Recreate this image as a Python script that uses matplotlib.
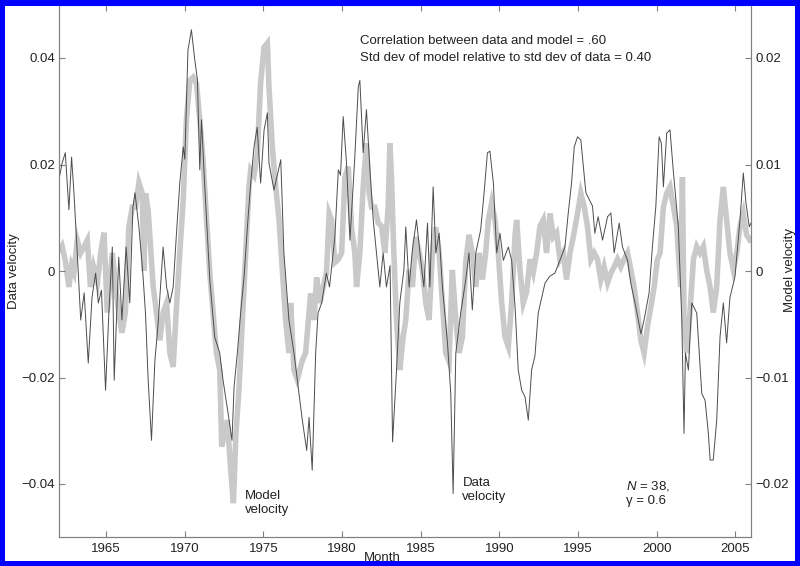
import matplotlib
matplotlib.use("Agg")
import matplotlib.pyplot as plt
from matplotlib.patches import Rectangle
from matplotlib.ticker import FuncFormatter

plt.rcParams["font.family"] = ["Liberation Sans", "DejaVu Sans"]
plt.rcParams["mathtext.fontset"] = "custom"
plt.rcParams["mathtext.rm"] = "Liberation Sans"
plt.rcParams["mathtext.it"] = "Liberation Sans:italic"

# data velocity (left axis)
data_year = [
    1962.05, 1962.2, 1962.4, 1962.63, 1962.8, 1962.95, 1963.16, 1963.38, 1963.6, 1963.86,
    1964.1, 1964.33, 1964.5, 1964.7, 1964.96, 1965.17, 1965.39, 1965.51, 1965.8, 1966.0,
    1966.27, 1966.5, 1966.7, 1966.83, 1967.08, 1967.33, 1967.5, 1967.67, 1967.88, 1968.1,
    1968.3, 1968.62, 1968.84, 1969.05, 1969.26, 1969.47, 1969.68, 1969.9, 1970.0, 1970.2,
    1970.42, 1970.63, 1970.8, 1970.95, 1971.06, 1971.27, 1971.59, 1971.9, 1972.22, 1972.43,
    1972.75, 1973.0, 1973.13, 1973.34, 1973.55, 1973.77, 1973.98, 1974.19, 1974.4, 1974.6,
    1974.82, 1975.04, 1975.25, 1975.35, 1975.67, 1976.1, 1976.3, 1976.62, 1976.94, 1977.26,
    1977.47, 1977.75, 1977.9, 1978.1, 1978.32, 1978.47, 1978.7, 1979.0, 1979.2, 1979.54,
    1979.76, 1979.9, 1980.07, 1980.28, 1980.5, 1980.8, 1981.03, 1981.13, 1981.34, 1981.55,
    1981.77, 1981.98, 1982.19, 1982.4, 1982.61, 1982.82, 1983.05, 1983.21, 1983.46, 1983.67,
    1983.93, 1984.05, 1984.26, 1984.47, 1984.73, 1985.0, 1985.2, 1985.43, 1985.58, 1985.79,
    1985.96, 1986.17, 1986.38, 1986.7, 1986.91, 1987.06, 1987.23, 1987.54, 1987.86, 1988.07,
    1988.28, 1988.5, 1988.81, 1989.03, 1989.24, 1989.4, 1989.62, 1989.83, 1990.04, 1990.25,
    1990.57, 1990.78, 1991.0, 1991.2, 1991.42, 1991.63, 1991.84, 1992.05, 1992.26, 1992.47,
    1992.9, 1993.2, 1993.53, 1993.85, 1994.17, 1994.38, 1994.59, 1994.76, 1994.97, 1995.18,
    1995.5, 1995.92, 1996.07, 1996.28, 1996.56, 1996.88, 1997.09, 1997.3, 1997.62, 1997.83,
    1998.15, 1998.36, 1998.68, 1999.0, 1999.2, 1999.52, 1999.73, 1999.95, 2000.16, 2000.3,
    2000.43, 2000.64, 2000.85, 2001.07, 2001.38, 2001.6, 2001.74, 2001.83, 2002.02, 2002.23,
    2002.55, 2002.87, 2003.08, 2003.29, 2003.4, 2003.6, 2003.82, 2004.03, 2004.24, 2004.45,
    2004.66, 2004.98, 2005.3, 2005.51, 2005.68, 2005.89, 2006.0,
]
data_vel = [
    0.018, 0.0203, 0.0222, 0.0115, 0.0214, 0.0147, 0.0034, -0.0092, -0.0041, -0.0173,
    -0.0049, -0.0004, -0.006, -0.0036, -0.0224, -0.0079, 0.0045, -0.0205, 0.0026, -0.0092,
    0.0045, -0.006, 0.012, 0.0147, 0.0083, -0.0004, -0.008, -0.0205, -0.0318, -0.0167,
    -0.010, 0.0045, -0.003, -0.006, -0.003, 0.0071, 0.0165, 0.0233, 0.021, 0.0415,
    0.0453, 0.0397, 0.036, 0.019, 0.0284, 0.0158, -0.0017, -0.0124, -0.0154, -0.0205,
    -0.0267, -0.0318, -0.0218, -0.0154, -0.0079, -0.001, 0.0083, 0.0165, 0.0233, 0.027,
    0.0165, 0.0265, 0.0297, 0.0203, 0.0152, 0.0209, 0.0034, -0.0092, -0.0154, -0.023,
    -0.028, -0.0337, -0.0275, -0.0374, -0.0154, -0.0079, -0.006, -0.0004, -0.003, 0.0064,
    0.019, 0.018, 0.029, 0.0203, 0.0058, 0.0209, 0.0346, 0.0358, 0.0222, 0.0303,
    0.019, 0.0096, 0.0034, -0.003, 0.0034, -0.003, 0.001, -0.0321, -0.0186, -0.006,
    0.0002, 0.0083, -0.003, 0.004, 0.0096, 0.002, -0.003, 0.009, -0.003, 0.0158,
    0.0034, 0.0071, -0.003, -0.0135, -0.023, -0.0418, -0.0154, -0.0079, -0.0017, 0.0034,
    -0.0073, 0.0034, 0.0077, 0.0147, 0.0222, 0.0225, 0.0165, 0.0034, 0.0071, 0.002,
    0.0045, 0.002, -0.0068, -0.0186, -0.0224, -0.0236, -0.028, -0.0186, -0.016, -0.0079,
    -0.0023, -0.001, -0.0004, 0.002, 0.0045, 0.0109, 0.0165, 0.0233, 0.0252, 0.0246,
    0.0147, 0.0122, 0.0071, 0.0102, 0.0058, 0.0102, 0.0109, 0.0034, 0.009, 0.0045,
    0.002, -0.0023, -0.0068, -0.0118, -0.0092, -0.0041, 0.0045, 0.0122, 0.0252, 0.024,
    0.0158, 0.0259, 0.0265, 0.0184, 0.0083, -0.0092, -0.0305, -0.0154, -0.0186, -0.006,
    -0.0079, -0.023, -0.0243, -0.0305, -0.0355, -0.0355, -0.028, -0.0124, -0.006, -0.0135,
    -0.005, -0.0011, 0.0096, 0.0184, 0.0128, 0.0083, 0.009,
]

# model velocity (right axis)
model_year = [
    1962.1, 1962.2, 1962.4, 1962.63, 1962.8, 1962.95, 1963.16, 1963.38, 1963.6, 1963.8,
    1964.0, 1964.2, 1964.45, 1964.65, 1964.86, 1965.07, 1965.39, 1965.6, 1965.8, 1966.0,
    1966.22, 1966.44, 1966.66, 1966.87, 1967.08, 1967.29, 1967.4, 1967.5, 1967.67, 1967.78,
    1967.99, 1968.2, 1968.41, 1968.62, 1968.84, 1969.05, 1969.26, 1969.47, 1969.68, 1969.9,
    1970.1, 1970.32, 1970.53, 1970.74, 1970.95, 1971.16, 1971.38, 1971.59, 1971.8, 1972.01,
    1972.22, 1972.35, 1972.7, 1972.92, 1973.09, 1973.24, 1973.45, 1973.66, 1973.87, 1974.08,
    1974.19, 1974.4, 1974.61, 1974.82, 1975.04, 1975.25, 1975.35, 1975.56, 1975.78, 1975.99,
    1976.2, 1976.41, 1976.62, 1976.73, 1976.94, 1977.15, 1977.47, 1977.68, 1978.0, 1978.21,
    1978.38, 1978.59, 1978.8, 1979.01, 1979.18, 1979.33, 1979.54, 1979.76, 1979.97, 1980.18,
    1980.39, 1980.6, 1980.81, 1980.92, 1981.13, 1981.34, 1981.55, 1981.72, 1981.87, 1982.08,
    1982.3, 1982.51, 1982.72, 1982.93, 1983.04, 1983.14, 1983.29, 1983.46, 1983.67, 1983.88,
    1984.05, 1984.26, 1984.47, 1984.69, 1984.9, 1985.11, 1985.32, 1985.53, 1985.74, 1985.96,
    1986.17, 1986.38, 1986.59, 1986.8, 1987.01, 1987.23, 1987.44, 1987.65, 1987.86, 1988.07,
    1988.28, 1988.5, 1988.71, 1988.92, 1989.13, 1989.3, 1989.51, 1989.72, 1989.93, 1990.15,
    1990.36, 1990.57, 1990.78, 1991.0, 1991.1, 1991.31, 1991.52, 1991.73, 1991.95, 1992.16,
    1992.37, 1992.58, 1992.79, 1993.0, 1993.22, 1993.43, 1993.64, 1993.85, 1994.06, 1994.27,
    1994.49, 1994.7, 1994.97, 1995.18, 1995.4, 1995.6, 1995.82, 1996.03, 1996.24, 1996.45,
    1996.66, 1996.88, 1997.09, 1997.3, 1997.51, 1997.72, 1997.93, 1998.15, 1998.36, 1998.57,
    1998.78, 1999.0, 1999.2, 1999.42, 1999.63, 1999.84, 2000.05, 2000.22, 2000.43, 2000.64,
    2000.85, 2001.07, 2001.28, 2001.38, 2001.53, 2001.64, 2001.74, 2001.91, 2002.12, 2002.34,
    2002.55, 2002.76, 2002.97, 2003.18, 2003.4, 2003.6, 2003.82, 2004.03, 2004.24, 2004.45,
    2004.66, 2004.88, 2005.09, 2005.3, 2005.51, 2005.72, 2005.93,
]
model_vel = [
    0.002, 0.0023, 0.001, -0.0015, 0.0005, -0.0001, 0.0029, 0.0017, 0.0023, 0.0029,
    -0.0015, 0.0004, -0.001, 0.0017, 0.0036, -0.0039, 0.0017, -0.0015, -0.0039, -0.0058,
    -0.0039, 0.0041, 0.006, 0.006, 0.0083, 0.0073, 0.0, 0.0073, 0.0057, 0.0032,
    -0.0015, -0.0039, -0.0065, -0.0039, -0.003, -0.0077, -0.009, -0.0034, 0.0017, 0.0067,
    0.0142, 0.0179, 0.0182, 0.0176, 0.0142, 0.0104, 0.0048, -0.0002, -0.0039, -0.0077,
    -0.0093, -0.0165, -0.014, -0.0187, -0.0218, -0.0156, -0.0109, -0.0046, 0.0017, 0.0079,
    0.0095, 0.009, 0.0111, 0.0177, 0.021, 0.0214, 0.0173, 0.0117, 0.0079, 0.0048,
    0.0001, -0.0046, -0.0077, -0.003, -0.0093, -0.0102, -0.0084, -0.0077, -0.0021, -0.0046,
    -0.0006, -0.003, -0.0015, -0.0001, 0.0054, 0.0048, 0.0008, 0.0011, 0.0017, 0.0088,
    0.0098, 0.0041, 0.0017, -0.0015, 0.0017, 0.0079, 0.012, 0.0073, 0.006, 0.006,
    0.0045, 0.0042, 0.0017, 0.006, 0.012, 0.0088, 0.0017, -0.0046, -0.0093, -0.0062,
    -0.0046, 0.0001, -0.0015, 0.0032, 0.0017, 0.0001, -0.003, -0.0046, 0.0017, 0.0041,
    0.0017, -0.003, -0.0077, -0.0085, 0.0001, -0.0046, -0.0077, -0.0062, 0.0008, 0.0034,
    0.0017, -0.0015, 0.0017, -0.0008, 0.0017, 0.0048, 0.0064, 0.0048, 0.0017, -0.003,
    -0.0062, -0.0071, -0.003, 0.0034, 0.0048, 0.0001, -0.003, -0.002, 0.0011, -0.0001,
    0.0017, 0.0042, 0.0048, 0.0017, 0.0054, 0.0032, 0.0036, 0.0011, 0.0017, -0.0008,
    0.0017, 0.0032, 0.0054, 0.0073, 0.006, 0.0042, 0.0011, 0.0017, 0.0011, -0.0008,
    0.0004, -0.0011, -0.0002, 0.0004, 0.0011, 0.0004, 0.0011, 0.0017, 0.0001, -0.0015,
    -0.0039, -0.0065, -0.0077, -0.0052, -0.0034, -0.0015, 0.0011, 0.0017, 0.006, 0.0073,
    0.0079, 0.006, 0.0042, 0.0017, -0.0015, 0.0088, -0.0046, -0.0077, -0.0039, 0.0011,
    0.0023, 0.0017, 0.0023, 0.0001, -0.0015, -0.0039, -0.0015, 0.0048, 0.0079, 0.0048,
    0.0017, 0.0001, 0.0017, 0.0042, 0.0054, 0.0034, 0.0029,
]

year_ticks = [1965, 1970, 1975, 1980, 1985, 1990, 1995, 2000, 2005]
data_ticks = [-0.04, -0.02, 0, 0.02, 0.04]
model_ticks = [-0.02, -0.01, 0, 0.01, 0.02]

txt = "#222222"
spine_c = "#808080"

fig = plt.figure(figsize=(8, 5.66), dpi=100)
ax = fig.add_axes([59 / 800, 28.75 / 566, 692 / 800, 532.5 / 566])
ax2 = ax.twinx()
# thin data line on top of the thick model line
ax.set_zorder(ax2.get_zorder() + 1)
ax.patch.set_visible(False)

ax2.plot(model_year, model_vel, color="#c9c9c9", lw=4.0, solid_joinstyle="miter")
ax.plot(data_year, data_vel, color="#4d4d4d", lw=0.7)

ax.set_xlim(1962, 2006)
ax.set_ylim(-0.05, 0.05)
ax2.set_ylim(-0.025, 0.025)

fmt = FuncFormatter(lambda v, p: ("%g" % v).replace("-", "\u2212"))
ax.set_xticks(year_ticks)
ax.set_yticks(data_ticks)
ax2.set_yticks(model_ticks)
ax.yaxis.set_major_formatter(fmt)
ax2.yaxis.set_major_formatter(fmt)

ax.tick_params(axis="x", direction="in", top=True, bottom=True, length=4,
               width=0.8, color=spine_c, labelsize=9.5, labelcolor=txt, pad=4)
ax.tick_params(axis="y", direction="in", left=True, right=False, length=4,
               width=0.8, color=spine_c, labelsize=9.5, labelcolor=txt, pad=3)
ax2.tick_params(axis="y", direction="in", right=True, left=False, length=4,
                width=0.8, color=spine_c, labelsize=9.5, labelcolor=txt, pad=3)
ax2.tick_params(axis="x", bottom=False, top=False, labelbottom=False)
for a in (ax, ax2):
    for s in a.spines.values():
        s.set_color(spine_c)
        s.set_linewidth(0.8)

ax.text(1981.11, 0.0431, "Correlation between data and model = .60",
        fontsize=9.5, color=txt, va="center", ha="left")
ax.text(1981.11, 0.0400, "Std dev of model relative to std dev of data = 0.40",
        fontsize=9.5, color=txt, va="center", ha="left")
ax.text(1973.81, -0.0436, "Model\nvelocity", fontsize=9.5, color=txt,
        va="center", ha="left", linespacing=1.2)
ax.text(1987.65, -0.0411, "Data\nvelocity", fontsize=9.5, color=txt,
        va="center", ha="left", linespacing=1.2)
ax.text(1998.06, -0.0417, "$N$ = 38,\n\u03b3 = 0.6", fontsize=9.5, color=txt,
        va="center", ha="left", linespacing=1.3)

fig.text(14 / 800, 1 - 271 / 566, "Data velocity", rotation=90, fontsize=9.5,
         color=txt, ha="center", va="center")
fig.text(790 / 800, 1 - 270 / 566, "Model velocity", rotation=90, fontsize=9.5,
         color=txt, ha="center", va="center")
fig.text(382 / 800, 1 - 552 / 566, "Month", fontsize=9.5, color=txt,
         ha="center", va="top")

# blue frame around the picture
blue = "#0000ff"
for x0, y0, w, h in [(0, 0, 5 / 800, 1), (1 - 5 / 800, 0, 5 / 800, 1),
                     (0, 0, 1, 5 / 566), (0, 1 - 6 / 566, 1, 6 / 566)]:
    fig.patches.append(Rectangle((x0, y0), w, h, transform=fig.transFigure,
                                 facecolor=blue, edgecolor="none", zorder=10))

fig.savefig("out.png", dpi=100)
